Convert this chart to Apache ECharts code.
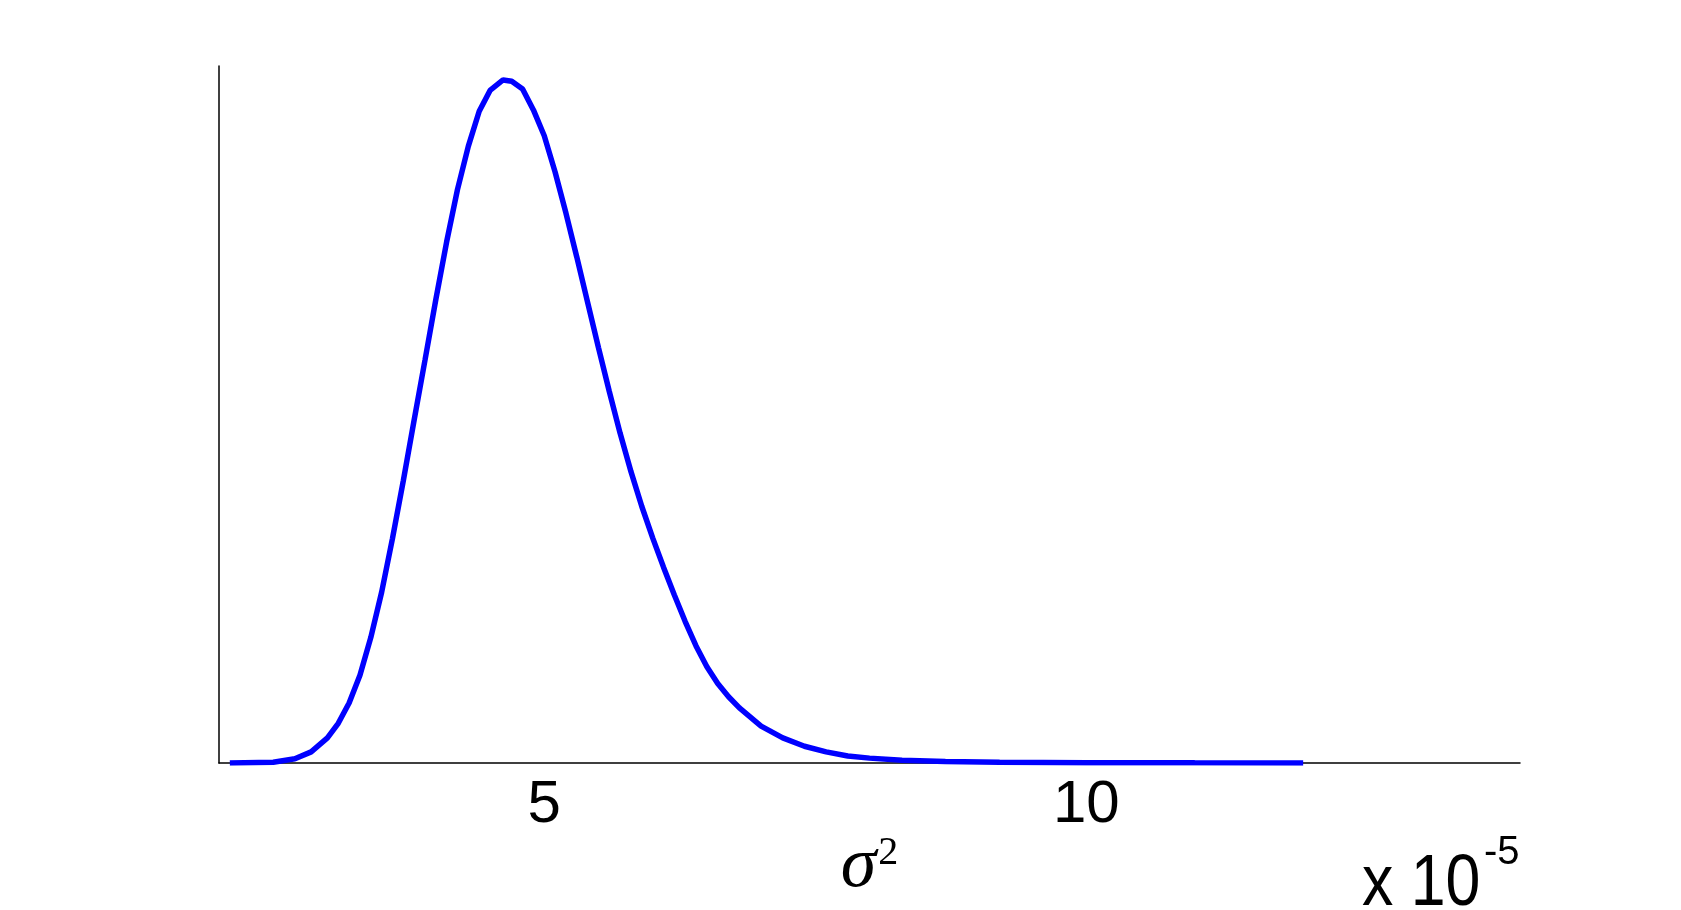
<!DOCTYPE html>
<html>
<head>
<meta charset="utf-8">
<title>sigma^2 density</title>
<script src="https://cdn.jsdelivr.net/npm/echarts@6/dist/echarts.min.js"></script>
<style>
  html, body { margin: 0; padding: 0; background: #fff; }
  #main { width: 1681px; height: 910px; }
</style>
</head>
<body>
<div id="main"></div>
<script>
// x values in units of 1e-5
const sigmaX = [2.1, 2.5, 2.7, 2.85, 3.0, 3.1, 3.2, 3.3, 3.4, 3.5, 3.6, 3.7, 3.8, 3.9, 4.0,
  4.1, 4.2, 4.3, 4.4, 4.5, 4.62, 4.7, 4.8, 4.9, 5.0, 5.1, 5.2, 5.3, 5.4, 5.5, 5.6, 5.7, 5.8,
  5.9, 6.0, 6.1, 6.2, 6.3, 6.4, 6.5, 6.6, 6.7, 6.8, 7.0, 7.2, 7.4, 7.6, 7.8, 8.0, 8.3, 8.7,
  9.2, 10, 11, 12];
// density, scaled
const density = [0, 0.001, 0.006, 0.016, 0.036, 0.057, 0.086, 0.126, 0.18, 0.245, 0.322,
  0.405, 0.492, 0.578, 0.665, 0.748, 0.823, 0.885, 0.935, 0.965, 0.98, 0.978, 0.967, 0.937,
  0.9, 0.848, 0.789, 0.726, 0.661, 0.596, 0.533, 0.473, 0.418, 0.368, 0.323, 0.281, 0.241,
  0.203, 0.168, 0.138, 0.114, 0.095, 0.079, 0.053, 0.036, 0.024, 0.016, 0.01, 0.007, 0.004,
  0.002, 0.001, 0.0005, 0.0002, 0];
const tickLabels = [5, 10];

const chart = echarts.init(document.getElementById("main"), null, { renderer: "canvas" });

const option = {
  animation: false,
  backgroundColor: "#ffffff",
  grid: { left: 219, right: 161, top: 66, bottom: 147, containLabel: false, outerBoundsMode: "none" },
  xAxis: {
    type: "value",
    min: 2,
    max: 14,
    axisLine: { show: true, onZero: false, lineStyle: { color: "#000", width: 1.5 } },
    axisTick: { show: false },
    splitLine: { show: false },
    axisLabel: {
      customValues: tickLabels,
      color: "#000",
      fontFamily: "Liberation Sans",
      fontSize: 60,
      margin: 12,
    },
    name: "{s|σ}{sup|2}",
    nameLocation: "middle",
    nameGap: 68,
    nameMoveOverlap: false,
    nameTextStyle: {
      rich: {
        s: { fontFamily: "Liberation Serif", fontStyle: "italic", fontSize: 72, color: "#000", verticalAlign: "bottom" },
        sup: { fontFamily: "Liberation Serif", fontSize: 40, color: "#000", verticalAlign: "top", padding: [2, 0, 0, 2] },
      },
    },
  },
  yAxis: {
    type: "value",
    min: 0,
    max: 1,
    axisLine: { show: true, lineStyle: { color: "#000", width: 1.5 } },
    axisTick: { show: false },
    axisLabel: { show: false },
    splitLine: { show: false },
  },
  graphic: [
    {
      type: "text",
      x: 1362,
      y: 849,
      scaleX: 0.87,
      style: { text: "x 10", font: "72px 'Liberation Sans'", fill: "#000", verticalAlign: "top" },
    },
    {
      type: "text",
      x: 1484,
      y: 833,
      style: { text: "-5", font: "40px 'Liberation Sans'", fill: "#000", verticalAlign: "top" },
    },
  ],
  series: [
    {
      type: "line",
      data: sigmaX.map((x, i) => [x, density[i]]),
      showSymbol: false,
      smooth: false,
      lineStyle: { color: "#0000ff", width: 5.5 },
    },
  ],
};
chart.setOption(option);
</script>
</body>
</html>
